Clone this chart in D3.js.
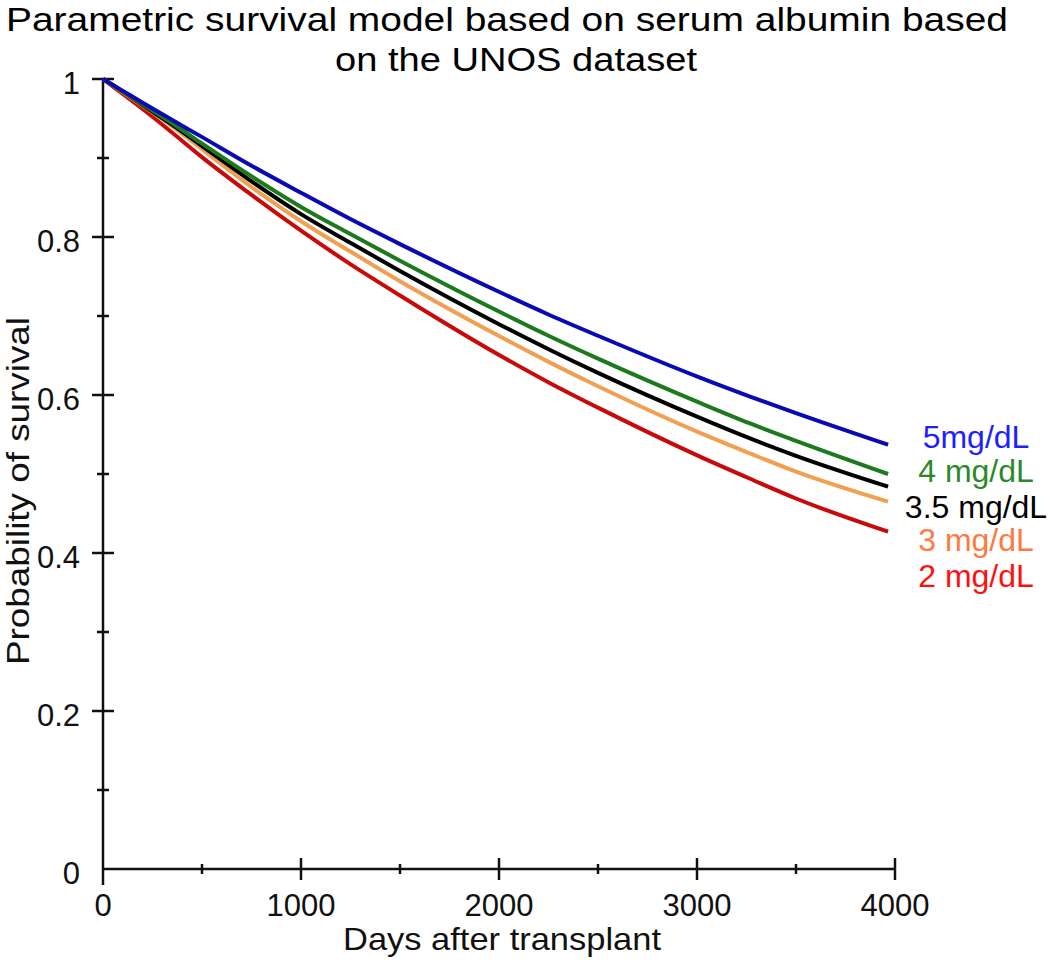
<!DOCTYPE html>
<html>
<head>
<meta charset="utf-8">
<script src="https://cdn.jsdelivr.net/npm/d3@7"></script>
<style>
  html, body { margin: 0; padding: 0; background: #fff; }
  svg { display: block; }
  text { font-family: "Liberation Sans", Arial, sans-serif; }
</style>
</head>
<body>
<svg id="chart" width="1050" height="969"></svg>
<script>
// ---- data ----
const days = [0, 100, 200, 350, 490, 730, 1000, 1247, 1500, 2005, 2258, 2500, 3015, 3268, 3500, 3965];
const alb5  = [1, 0.985, 0.970, 0.948, 0.928, 0.893, 0.856, 0.823, 0.791, 0.730, 0.701, 0.675, 0.622, 0.598, 0.577, 0.537];
const alb4  = [1, 0.984, 0.968, 0.944, 0.920, 0.880, 0.838, 0.804, 0.770, 0.705, 0.674, 0.646, 0.590, 0.564, 0.542, 0.500];
const alb35 = [1, 0.984, 0.967, 0.942, 0.917, 0.874, 0.829, 0.793, 0.757, 0.689, 0.657, 0.628, 0.571, 0.545, 0.523, 0.484];
const alb3  = [1, 0.983, 0.966, 0.940, 0.913, 0.867, 0.820, 0.782, 0.744, 0.674, 0.641, 0.611, 0.552, 0.526, 0.503, 0.465];
const alb2  = [1, 0.981, 0.962, 0.932, 0.903, 0.857, 0.808, 0.766, 0.726, 0.650, 0.615, 0.584, 0.522, 0.494, 0.469, 0.427];
const seriesNames = ["5mg/dL", "4 mg/dL", "3.5 mg/dL", "3 mg/dL", "2 mg/dL"];
const lineColors  = ["#0a0ab4", "#1c7a1c", "#000000", "#f0a050", "#c80a0a"];
const labelColors = ["#1e1eff", "#2a8a2a", "#000000", "#ff7a40", "#ff1010"];
const xTicks = [0, 1000, 2000, 3000, 4000];
const xMinor = [500, 1500, 2500, 3500];
const yTicks = [0, 0.2, 0.4, 0.6, 0.8, 1];
const yTickLabels = ["0", "0.2", "0.4", "0.6", "0.8", "1"];
const yMinor = [0.1, 0.3, 0.5, 0.7, 0.9];
const titleLines = ["Parametric survival model based on serum albumin based", "on the UNOS dataset"];
const xTitle = "Days after transplant";
const yTitle = "Probability of survival";

const seriesValues = [alb5, alb4, alb35, alb3, alb2];

// ---- layout ----
const svg = d3.select("#chart");
const x = d3.scaleLinear().domain([0, 4000]).range([103, 895]);
const y = d3.scaleLinear().domain([0, 1]).range([869, 79]);

// title
svg.append("text").attr("x", 507).attr("y", 31).attr("text-anchor", "middle")
  .attr("font-size", 33).attr("textLength", 1002).attr("lengthAdjust", "spacingAndGlyphs")
  .text(titleLines[0]);
svg.append("text").attr("x", 516).attr("y", 71).attr("text-anchor", "middle")
  .attr("font-size", 33).attr("textLength", 362).attr("lengthAdjust", "spacingAndGlyphs")
  .text(titleLines[1]);

// axes
const axisG = svg.append("g").attr("stroke", "#111").attr("stroke-width", 2.5).attr("fill", "none");
axisG.append("line").attr("x1", x(0)).attr("x2", x(0)).attr("y1", y(1)).attr("y2", y(0));
axisG.append("line").attr("x1", x(0)).attr("x2", x(4000)).attr("y1", y(0)).attr("y2", y(0));

// y ticks
yTicks.forEach(v => {
  if (v === 0) return;
  axisG.append("line").attr("x1", x(0) - 11).attr("x2", x(0) + 11).attr("y1", y(v)).attr("y2", y(v));
});
yMinor.forEach(v => {
  axisG.append("line").attr("x1", x(0) - 6).attr("x2", x(0) + 6).attr("y1", y(v)).attr("y2", y(v));
});
// x ticks
xTicks.forEach(v => {
  if (v === 0) {
    axisG.append("line").attr("x1", x(v)).attr("x2", x(v)).attr("y1", y(0)).attr("y2", y(0) + 16);
  } else {
    axisG.append("line").attr("x1", x(v)).attr("x2", x(v)).attr("y1", y(0) - 11).attr("y2", y(0) + 11);
  }
});
xMinor.forEach(v => {
  axisG.append("line").attr("x1", x(v)).attr("x2", x(v)).attr("y1", y(0) - 5).attr("y2", y(0) + 5);
});

// tick labels
svg.append("g").selectAll("text").data(yTicks).join("text")
  .attr("x", 80).attr("y", d => y(d) + 15).attr("text-anchor", "end")
  .attr("font-size", 31).attr("fill", "#111")
  .text((d, i) => yTickLabels[i]);
svg.append("g").selectAll("text").data(xTicks).join("text")
  .attr("x", d => x(d)).attr("y", 916).attr("text-anchor", "middle")
  .attr("font-size", 31).attr("fill", "#111")
  .text(d => d);

// axis titles
svg.append("text").attr("x", 502).attr("y", 950).attr("text-anchor", "middle")
  .attr("font-size", 32).attr("textLength", 318).attr("lengthAdjust", "spacingAndGlyphs")
  .attr("fill", "#111").text(xTitle);
svg.append("text").attr("transform", "translate(29,491) rotate(-90)").attr("text-anchor", "middle")
  .attr("font-size", 32).attr("textLength", 348).attr("lengthAdjust", "spacingAndGlyphs")
  .attr("fill", "#111").text(yTitle);

// lines
const line = d3.line().x(d => x(d[0])).y(d => y(d[1])).curve(d3.curveMonotoneX);
const order = [4, 3, 2, 1, 0];
order.forEach(i => {
  const pts = days.map((d, k) => [d, seriesValues[i][k]]);
  svg.append("path").datum(pts).attr("d", line)
    .attr("fill", "none").attr("stroke", lineColors[i]).attr("stroke-width", 4)
    .attr("stroke-linejoin", "round");
});

// labels
const labelBaselines = [448, 482, 518, 551, 587];
seriesNames.forEach((n, i) => {
  svg.append("text").attr("x", 976).attr("y", labelBaselines[i]).attr("text-anchor", "middle")
    .attr("font-size", 32).attr("fill", labelColors[i]).text(n);
});
</script>
</body>
</html>
